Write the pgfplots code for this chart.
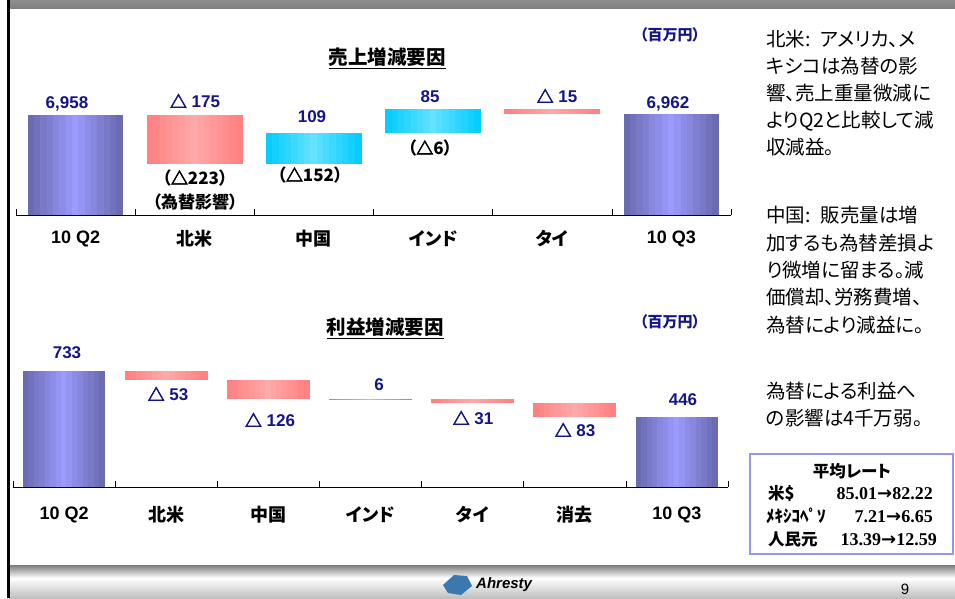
\documentclass[border=0pt]{standalone}
\usepackage{pgfplots}
\pgfplotsset{compat=1.18}
\usepackage{pgfplotstable}
\usepackage{fontspec}
\setmainfont{Liberation Sans}
\newfontfamily\jp{Noto Sans CJK JP}
\newfontfamily\jpp{Noto Sans CJK JP}[RawFeature=+palt]
\newfontfamily\trif{Noto Sans CJK JP}[FakeBold=3]
\newfontfamily\tms{Liberation Serif}
\newfontfamily\dej{DejaVu Sans}
\definecolor{pedge}{RGB}{104,104,172}
\definecolor{pmid}{RGB}{155,155,255}
\definecolor{sedge}{RGB}{255,126,126}
\definecolor{smid}{RGB}{255,170,170}
\definecolor{cedge}{RGB}{0,204,255}
\definecolor{cmid}{RGB}{100,226,255}
\definecolor{lblue}{RGB}{20,20,140}
\definecolor{boxc}{RGB}{150,150,240}
\definecolor{logoc}{RGB}{58,120,176}

% Waterfall bars (million yen): x = category, top = upper end of bar, len = bar length
% sales: 10Q2 6958, N.America -175, China +109, India +85, Thailand -15, 10Q3 6962
\pgfplotstableread{
x top len
0 6958 6958
5 6962 6962
}\salesP
\pgfplotstableread{
x top len
1 6958 175
4 6977 15
}\salesS
\pgfplotstableread{
x top len
2 6892 109
3 6977 85
}\salesC
% profit: 10Q2 733, N.America -53, China -126, India +6, Thailand -31, elimination -83, 10Q3 446
\pgfplotstableread{
x top len
0 733 733
6 446 446
}\profitP
\pgfplotstableread{
x top len
1 733 53
2 680 126
4 560 31
5 529 83
}\profitS
\pgfplotstableread{
x top len
3 560 6
}\profitC

\newcommand{\tri}{{\trif\bfseries △}}
\newcommand{\arr}{{\dej\bfseries →}}

\pgfplotsset{
  lineax/.style={axis y line=none, axis x line*=bottom, axis on top,
    axis line style={black, line width=0.8pt},
    major tick length=0pt, minor tick length=6pt, tick align=inside,
    tick style={black, line width=0.6pt}, ytick=\empty,
    clip marker paths=true,
    xticklabel style={font=\bfseries\fontsize{18}{18}\selectfont}},
  strip/.style 2 args={only marks, mark=*, mark size=0pt,
    mark options={draw=none, fill=none}, forget plot,
    error bars/y dir=minus, error bars/y explicit, error bars/error mark=none,
    error bars/error bar style={draw=#1, line width=#2, line cap=butt, solid}},
}
% bars are drawn as 15 vertical strips each, for the horizontal gradient
% #1 table, #2 strip offset (x units), #3 colour, #4 strip width
\newcommand{\stripplot}[4]{%
  \edef\tmp{\noexpand\addplot[strip={#3}{#4}] table[x expr=\noexpand\thisrow{x}+#2, y=top, y error=len] {\noexpand#1};}\tmp}

\begin{document}
\begin{tikzpicture}[x=1pt,y=1pt,
  lbl/.style={font=\bfseries\fontsize{17}{17}\selectfont, text=lblue, inner sep=0pt},
  blk/.style={font=\jpp\bfseries\fontsize{17}{17}\selectfont, text=black, inner sep=0pt},
  rt/.style={font=\jpp\fontsize{19.5}{19.5}\selectfont, anchor=base west, inner sep=0pt},
  ]
\path[use as bounding box] (0,0) rectangle (955,598);
% header band
\shade[top color=black!45, middle color=black!6, bottom color=black!50] (9,589) rectangle (955,597);
% footer band
\shade[top color=black!52, bottom color=white] (9,20) rectangle (955,33);
\shade[top color=white, bottom color=black!25] (9,0) rectangle (955,20);
% left border line
\draw[line width=2.5pt] (8.5,0) -- (8.5,598);
% logo and page number
\fill[logoc] (443,13) -- (454,23) -- (467,22) -- (472,12) -- (461,3) -- (448,5) -- cycle;
\node[anchor=west, font=\bfseries\itshape\fontsize{15}{15}\selectfont, inner sep=0pt] at (476,13) {Ahresty};
\node[font=\fontsize{15}{15}\selectfont] at (905,9) {9};

% ---------------- sales chart ----------------
\begin{axis}[lineax,
  at={(16pt,383pt)}, anchor=south west,
  width=715pt, height=154pt, scale only axis,
  xmin=-0.5, xmax=5.5, ymin=6600, ymax=7150,
  xtick={0,...,5},
  xticklabels={10 Q2,{\jp 北米},{\jp 中国},{\jpp インド},{\jpp タイ},10 Q3},
  minor xtick={-0.5,0.5,...,5.5},
  xticklabel style={yshift=-12pt}]
\pgfplotsforeachungrouped \i in {0,...,14}{%
  \pgfmathsetmacro\dx{(\i-7)*0.797/15}%
  \pgfmathtruncatemacro\mx{100*(1-abs(\i-7)/7.5)}%
  \stripplot{\salesP}{\dx}{pmid!\mx!pedge}{7.0pt}%
  \stripplot{\salesS}{\dx}{smid!\mx!sedge}{7.0pt}%
  \stripplot{\salesC}{\dx}{cmid!\mx!cedge}{7.0pt}%
}
\end{axis}

% ---------------- profit chart ----------------
\begin{axis}[lineax,
  at={(13pt,111pt)}, anchor=south west,
  width=715pt, height=158pt, scale only axis,
  xmin=-0.5, xmax=6.5, ymin=0, ymax=1000,
  xtick={0,...,6},
  xticklabels={10 Q2,{\jp 北米},{\jp 中国},{\jpp インド},{\jpp タイ},{\jp 消去},10 Q3},
  minor xtick={-0.5,0.5,...,6.5},
  xticklabel style={yshift=-16pt}]
\pgfplotsforeachungrouped \i in {0,...,14}{%
  \pgfmathsetmacro\dx{(\i-7)*0.8028/15}%
  \pgfmathtruncatemacro\mx{100*(1-abs(\i-7)/7.5)}%
  \stripplot{\profitP}{\dx}{pmid!\mx!pedge}{6.2pt}%
  \stripplot{\profitS}{\dx}{smid!\mx!sedge}{6.2pt}%
  \stripplot{\profitC}{\dx}{cmid!\mx!cedge}{6.2pt}%
}
\end{axis}

% titles and units
\node[font=\jpp\bfseries\fontsize{19.5}{19.5}\selectfont, inner sep=0pt] at (387,598-58) {\underline{売上増減要因}};
\node[font=\jpp\bfseries\fontsize{19.5}{19.5}\selectfont, inner sep=0pt] at (385,598-328) {\underline{利益増減要因}};
\node[font=\jpp\bfseries\fontsize{15}{15}\selectfont, text=lblue, inner sep=0pt] at (670,598-35) {（百万円）};
\node[font=\jpp\bfseries\fontsize{15}{15}\selectfont, text=lblue, inner sep=0pt] at (670,598-322) {（百万円）};

% sales value labels
\node[lbl] at (67,598-104) {6,958};
\node[lbl] at (195,598-101) {\tri\ 175};
\node[lbl] at (312,598-117) {109};
\node[lbl] at (430,598-97) {85};
\node[lbl] at (557,598-96) {\tri\ 15};
\node[lbl] at (668,598-104) {6,962};
\node[blk] at (195,598-178) {（\tri 223）};
\node[blk] at (195,598-202) {（為替影響）};
\node[blk] at (310,598-175) {（\tri 152）};
\node[blk] at (430,598-148) {（\tri 6）};

% profit value labels
\node[lbl] at (67,598-353) {733};
\node[lbl] at (168,598-394) {\tri\ 53};
\node[lbl] at (270,598-420) {\tri\ 126};
\node[lbl] at (379,598-385) {6};
\node[lbl] at (473,598-418) {\tri\ 31};
\node[lbl] at (575,598-430) {\tri\ 83};
\node[lbl] at (683,598-400) {446};

% right-hand commentary
\node[rt] at (766,598-47) {北米:\hspace{10pt}アメリカ、メ};
\node[rt] at (766,598-74) {キシコは為替の影};
\node[rt] at (766,598-101) {響、売上重量微減に};
\node[rt] at (766,598-128) {よりQ2と比較して減};
\node[rt] at (766,598-155) {収減益。};
\node[rt] at (766,598-223) {中国:\hspace{10pt}販売量は増};
\node[rt] at (766,598-250) {加するも為替差損よ};
\node[rt] at (766,598-277) {り微増に留まる。減};
\node[rt] at (766,598-304) {価償却、労務費増、};
\node[rt] at (766,598-332) {為替により減益に。};
\node[rt] at (766,598-398) {為替による利益へ};
\node[rt] at (766,598-425) {の影響は4千万弱。};

% average rate box
\draw[boxc, line width=1.2pt] (750,598-454) rectangle (953,598-554);
\node[font=\jpp\bfseries\fontsize{16.5}{16.5}\selectfont, anchor=base, inner sep=0pt] at (852,598-477) {平均レート};
\node[font=\jp\bfseries\fontsize{16.5}{16.5}\selectfont, anchor=base west, inner sep=0pt] at (768,598-499) {米\$};
\node[font=\jp\bfseries\fontsize{17}{17}\selectfont, anchor=base west, inner sep=0pt] at (766,598-522) {ﾒｷｼｺﾍﾟｿ};
\node[font=\jp\bfseries\fontsize{16.5}{16.5}\selectfont, anchor=base west, inner sep=0pt] at (768,598-545) {人民元};
\node[font=\tms\bfseries\fontsize{18}{18}\selectfont, anchor=base east, inner sep=0pt] at (933,598-499) {85.01\arr 82.22};
\node[font=\tms\bfseries\fontsize{18}{18}\selectfont, anchor=base east, inner sep=0pt] at (933,598-522) {7.21\arr 6.65};
\node[font=\tms\bfseries\fontsize{18}{18}\selectfont, anchor=base east, inner sep=0pt] at (937,598-545) {13.39\arr 12.59};
\end{tikzpicture}
\end{document}
